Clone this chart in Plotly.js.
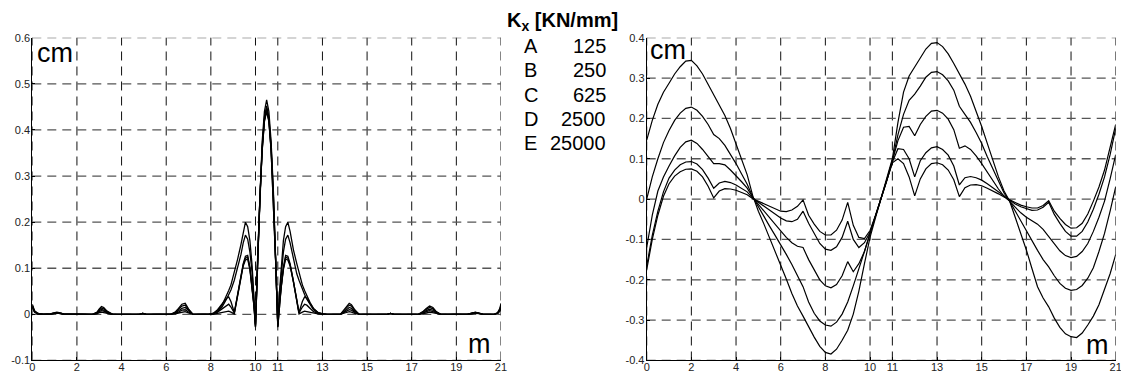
<!DOCTYPE html>
<html>
<head>
<meta charset="utf-8">
<script src="https://cdn.plot.ly/plotly-3.0.1.min.js"></script>
<style>html,body{margin:0;padding:0;background:#fff;}#chart{width:1121px;height:374px;}</style>
</head>
<body>
<div id="chart"></div>
<script>
// ---------- data ----------
const seriesNames = ["A", "B", "C", "D", "E"];
const legendValues = ["125", "250", "625", "2500", "25000"];
const legendTitle = "<b>K<sub>x</sub> [KN/mm]</b>";

const xTickVals = [0, 2, 4, 6, 8, 10, 11, 13, 15, 17, 19, 21];
const xTickText = ["0", "2", "4", "6", "8", "10", "11", "13", "15", "17", "19", "21"];
const yTickLeft = [-0.1, 0, 0.1, 0.2, 0.3, 0.4, 0.5, 0.6];
const yTickLeftText = ["-0.1", "0", "0.1", "0.2", "0.3", "0.4", "0.5", "0.6"];
const yTickRight = [-0.4, -0.3, -0.2, -0.1, 0, 0.1, 0.2, 0.3, 0.4];
const yTickRightText = ["-0.4", "-0.3", "-0.2", "-0.1", "0", "0.1", "0.2", "0.3", "0.4"];

// left chart (cm vs m)
const xLeft = [0, 0.1, 0.25, 0.5, 0.8, 1.0, 1.1, 1.2, 1.4,
  2.7, 2.9, 3.0, 3.1, 3.2, 3.35, 3.6,
  4.8, 4.95, 5.1,
  6.2, 6.4, 6.55, 6.7, 6.85, 7.0, 7.2,
  7.9, 8.1, 8.3, 8.5, 8.7, 8.8, 8.9, 9.05, 9.2, 9.35, 9.45, 9.55, 9.65, 9.75, 9.85, 9.93, 10.0,
  10.1, 10.2, 10.3, 10.4, 10.5, 10.6, 10.7, 10.8, 10.9,
  11.0,
  11.07, 11.15, 11.25, 11.35, 11.45, 11.55, 11.7, 11.85, 11.95, 12.1, 12.2, 12.3, 12.45, 12.6, 12.8, 13.0, 13.2,
  13.8, 14.0, 14.1, 14.2, 14.3, 14.45, 14.65,
  15.9, 16.05, 16.2,
  17.3, 17.5, 17.65, 17.8, 17.95, 18.1, 18.3,
  19.5, 19.7, 19.85, 20.0, 20.2,
  20.7, 20.85, 20.95, 21.0];

const leftA = [0.022, 0.008, 0.002, 0, 0.001, 0.004, 0.005, 0.004, 0.001,
  0, 0.005, 0.012, 0.017, 0.015, 0.007, 0,
  0, 0.002, 0,
  0, 0.005, 0.013, 0.022, 0.024, 0.012, 0,
  0, 0.002, 0.008, 0.02, 0.04, 0.052, 0.064, 0.09, 0.12, 0.152, 0.18, 0.2, 0.19, 0.16, 0.105, 0.045, -0.022,
  0.13, 0.27, 0.375, 0.44, 0.465, 0.44, 0.375, 0.27, 0.13,
  -0.022,
  0.045, 0.105, 0.16, 0.19, 0.2, 0.18, 0.14, 0.11, 0.09, 0.064, 0.052, 0.04, 0.025, 0.013, 0.004, 0.001, 0,
  0, 0.012, 0.02, 0.024, 0.021, 0.01, 0,
  0, 0.002, 0,
  0, 0.006, 0.013, 0.018, 0.015, 0.006, 0,
  0, 0.003, 0.005, 0.003, 0,
  0, 0.004, 0.013, 0.024];
const leftB = [0.02, 0.007, 0.002, 0, 0.001, 0.003, 0.004, 0.003, 0.001,
  0, 0.004, 0.01, 0.014, 0.012, 0.006, 0,
  0, 0.002, 0,
  0, 0.004, 0.011, 0.018, 0.02, 0.01, 0,
  0, 0.001, 0.006, 0.016, 0.033, 0.043, 0.053, 0.074, 0.1, 0.13, 0.155, 0.172, 0.163, 0.135, 0.09, 0.04, -0.022,
  0.125, 0.262, 0.365, 0.428, 0.452, 0.428, 0.365, 0.262, 0.125,
  -0.023,
  0.04, 0.09, 0.135, 0.163, 0.172, 0.155, 0.118, 0.088, 0.074, 0.053, 0.043, 0.033, 0.02, 0.01, 0.003, 0.001, 0,
  0, 0.01, 0.017, 0.02, 0.018, 0.008, 0,
  0, 0.002, 0,
  0, 0.005, 0.011, 0.015, 0.012, 0.005, 0,
  0, 0.003, 0.004, 0.003, 0,
  0, 0.003, 0.011, 0.021];
const leftC = [0.018, 0.006, 0.001, 0, 0.001, 0.003, 0.004, 0.003, 0.001,
  0, 0.003, 0.008, 0.011, 0.009, 0.004, 0,
  0, 0.002, 0,
  0, 0.003, 0.008, 0.013, 0.015, 0.008, 0,
  0, 0.002, 0.01, 0.022, 0.035, 0.038, 0.028, 0.004, 0.046, 0.088, 0.11, 0.126, 0.128, 0.102, 0.062, 0.022, -0.025,
  0.122, 0.258, 0.36, 0.423, 0.446, 0.423, 0.36, 0.258, 0.122,
  -0.025,
  0.022, 0.062, 0.102, 0.128, 0.126, 0.11, 0.075, 0.032, 0.004, 0.028, 0.038, 0.035, 0.024, 0.012, 0.004, 0.001, 0,
  0, 0.007, 0.012, 0.015, 0.013, 0.006, 0,
  0, 0.002, 0,
  0, 0.003, 0.008, 0.011, 0.009, 0.004, 0,
  0, 0.002, 0.004, 0.002, 0,
  0, 0.003, 0.01, 0.019];
const leftD = [0.016, 0.005, 0.001, 0, 0, 0.002, 0.003, 0.002, 0,
  0, 0.002, 0.006, 0.008, 0.007, 0.003, 0,
  0, 0.002, 0,
  0, 0.002, 0.005, 0.009, 0.01, 0.005, 0,
  0, 0.001, 0.005, 0.012, 0.02, 0.022, 0.016, 0.003, 0.042, 0.085, 0.108, 0.122, 0.124, 0.1, 0.06, 0.02, -0.027,
  0.12, 0.255, 0.357, 0.42, 0.442, 0.42, 0.357, 0.255, 0.12,
  -0.027,
  0.02, 0.06, 0.1, 0.124, 0.122, 0.108, 0.072, 0.03, 0.003, 0.016, 0.022, 0.02, 0.013, 0.006, 0.002, 0, 0,
  0, 0.005, 0.008, 0.01, 0.009, 0.004, 0,
  0, 0.002, 0,
  0, 0.002, 0.006, 0.008, 0.006, 0.003, 0,
  0, 0.002, 0.003, 0.002, 0,
  0, 0.002, 0.008, 0.017];
const leftE = [0.015, 0.005, 0.001, 0, 0, 0.002, 0.003, 0.002, 0,
  0, 0.001, 0.004, 0.005, 0.004, 0.002, 0,
  0, 0.002, 0,
  0, 0.001, 0.003, 0.005, 0.006, 0.003, 0,
  0, 0, 0.002, 0.004, 0.006, 0.007, 0.005, 0.001, 0.04, 0.082, 0.105, 0.118, 0.12, 0.097, 0.058, 0.018, -0.028,
  0.118, 0.253, 0.355, 0.418, 0.44, 0.418, 0.355, 0.253, 0.118,
  -0.028,
  0.018, 0.058, 0.097, 0.12, 0.118, 0.105, 0.07, 0.028, 0.001, 0.005, 0.007, 0.006, 0.004, 0.002, 0.001, 0, 0,
  0, 0.003, 0.005, 0.006, 0.005, 0.002, 0,
  0, 0.002, 0,
  0, 0.001, 0.003, 0.005, 0.004, 0.002, 0,
  0, 0.001, 0.003, 0.001, 0,
  0, 0.002, 0.007, 0.016];

// right chart (cm vs m), sampled every 0.25 m
const xRight = [0, 0.25, 0.5, 0.75, 1, 1.25, 1.5, 1.75, 2, 2.25, 2.5, 2.75, 3, 3.25, 3.5, 3.75,
  4, 4.25, 4.5, 4.75, 5, 5.25, 5.5, 5.75, 6, 6.25, 6.5, 6.75, 7, 7.25, 7.5, 7.75,
  8, 8.25, 8.5, 8.75, 9, 9.25, 9.5, 9.75, 10, 10.25, 10.5, 10.75, 11, 11.25, 11.5, 11.75,
  12, 12.25, 12.5, 12.75, 13, 13.25, 13.5, 13.75, 14, 14.25, 14.5, 14.75, 15, 15.25, 15.5, 15.75,
  16, 16.25, 16.5, 16.75, 17, 17.25, 17.5, 17.75, 18, 18.25, 18.5, 18.75, 19, 19.25, 19.5, 19.75,
  20, 20.25, 20.5, 20.75, 21];
const rightA = [0.146, 0.195, 0.235, 0.265, 0.287, 0.31, 0.328, 0.342, 0.344, 0.33, 0.31, 0.285, 0.257, 0.235, 0.207, 0.175,
  0.138, 0.1, 0.06, 0.008, -0.03, -0.062, -0.095, -0.128, -0.162, -0.198, -0.234, -0.265, -0.29, -0.318, -0.342, -0.365,
  -0.38, -0.384, -0.372, -0.35, -0.325, -0.285, -0.228, -0.16, -0.095, -0.045, 0.005, 0.05, 0.1, 0.19, 0.265, 0.305,
  0.328, 0.352, 0.372, 0.386, 0.388, 0.378, 0.36, 0.336, 0.31, 0.285, 0.255, 0.218, 0.18, 0.138, 0.095, 0.055,
  0.02, -0.005, -0.045, -0.085, -0.126, -0.172, -0.217, -0.245, -0.267, -0.295, -0.318, -0.334, -0.341, -0.343, -0.332, -0.312,
  -0.29, -0.262, -0.226, -0.185, -0.138];
const rightB = [0.0, 0.055, 0.1, 0.14, 0.17, 0.195, 0.213, 0.225, 0.228, 0.22, 0.205, 0.185, 0.16, 0.15, 0.133, 0.112,
  0.088, 0.062, 0.037, 0.005, -0.02, -0.043, -0.067, -0.09, -0.112, -0.137, -0.162, -0.19, -0.217, -0.255, -0.283, -0.302,
  -0.312, -0.315, -0.305, -0.285, -0.255, -0.215, -0.175, -0.13, -0.085, -0.043, 0.003, 0.048, 0.095, 0.16, 0.21, 0.245,
  0.26, 0.28, 0.302, 0.314, 0.316, 0.308, 0.293, 0.27, 0.23, 0.21, 0.19, 0.165, 0.138, 0.105, 0.075, 0.045,
  0.015, -0.005, -0.03, -0.055, -0.077, -0.102, -0.127, -0.15, -0.168, -0.19, -0.209, -0.221, -0.226, -0.224, -0.214, -0.196,
  -0.17, -0.13, -0.085, -0.03, 0.03];
const rightC = [-0.12, -0.04, 0.02, 0.055, 0.082, 0.107, 0.128, 0.142, 0.146, 0.138, 0.123, 0.105, 0.088, 0.088, 0.085, 0.072,
  0.058, 0.043, 0.027, 0.004, -0.013, -0.03, -0.048, -0.064, -0.079, -0.095, -0.108, -0.117, -0.12, -0.15, -0.177, -0.2,
  -0.215, -0.22, -0.212, -0.19, -0.155, -0.18, -0.16, -0.13, -0.085, -0.043, 0.002, 0.047, 0.095, 0.145, 0.178, 0.18,
  0.157, 0.185, 0.205, 0.218, 0.22, 0.213, 0.198, 0.172, 0.126, 0.132, 0.123, 0.107, 0.088, 0.067, 0.045, 0.025,
  0.007, -0.005, -0.02, -0.034, -0.045, -0.053, -0.062, -0.075, -0.093, -0.112, -0.128, -0.14, -0.145, -0.142, -0.13, -0.11,
  -0.08, -0.045, -0.005, 0.05, 0.11];
const rightD = [-0.165, -0.09, -0.03, 0.018, 0.052, 0.072, 0.085, 0.092, 0.093, 0.087, 0.073, 0.052, 0.027, 0.04, 0.044, 0.041,
  0.035, 0.027, 0.018, 0.002, -0.008, -0.018, -0.028, -0.038, -0.047, -0.054, -0.056, -0.05, -0.03, -0.06, -0.087, -0.11,
  -0.124, -0.127, -0.118, -0.095, -0.055, -0.1, -0.12, -0.108, -0.082, -0.042, 0.002, 0.045, 0.092, 0.125, 0.123, 0.1,
  0.055, 0.095, 0.115, 0.127, 0.13, 0.123, 0.109, 0.082, 0.035, 0.053, 0.056, 0.053, 0.047, 0.038, 0.028, 0.017,
  0.006, -0.003, -0.012, -0.019, -0.024, -0.028, -0.027, -0.02, -0.008, -0.038, -0.06, -0.08, -0.092, -0.092, -0.08, -0.057,
  -0.025, 0.012, 0.055, 0.11, 0.175];
const rightE = [-0.175, -0.1, -0.04, 0.007, 0.038, 0.057, 0.068, 0.074, 0.075, 0.069, 0.055, 0.032, 0.003, 0.02, 0.026, 0.025,
  0.022, 0.017, 0.011, 0.001, -0.005, -0.012, -0.019, -0.025, -0.03, -0.031, -0.027, -0.018, -0.002, -0.04, -0.062, -0.08,
  -0.089, -0.089, -0.077, -0.052, -0.008, -0.065, -0.095, -0.098, -0.078, -0.04, 0.002, 0.045, 0.09, 0.1, 0.088, 0.055,
  0.008, 0.05, 0.075, 0.088, 0.09, 0.085, 0.072, 0.048, 0.006, 0.028, 0.035, 0.036, 0.033, 0.027, 0.021, 0.013,
  0.005, -0.002, -0.009, -0.015, -0.019, -0.022, -0.022, -0.016, -0.004, -0.03, -0.048, -0.063, -0.072, -0.071, -0.06, -0.037,
  -0.005, 0.03, 0.072, 0.125, 0.185];

// ---------- chart ----------
const W = 1121, H = 374;
const FONT = "Arial, 'Liberation Sans', sans-serif";
const DASH = "9px,6px";
const leftSeries = [leftA, leftB, leftC, leftD, leftE];
const rightSeries = [rightA, rightB, rightC, rightD, rightE];

const traces = [];
seriesNames.forEach((n, i) => {
  traces.push({x: xLeft, y: leftSeries[i], name: n, type: "scatter", mode: "lines",
    line: {color: "#000", width: 1.3}, xaxis: "x", yaxis: "y", hoverinfo: "skip"});
});
seriesNames.forEach((n, i) => {
  traces.push({x: xRight, y: rightSeries[i], name: n, type: "scatter", mode: "lines",
    line: {color: "#000", width: 1.2}, xaxis: "x2", yaxis: "y2", hoverinfo: "skip"});
});

function xAxis(anchor, domain) {
  return {domain: domain, anchor: anchor, range: [0, 21], tickmode: "array",
    tickvals: xTickVals, ticktext: xTickText, showgrid: false, zeroline: false,
    showline: true, linecolor: "#000", linewidth: 1, ticks: "inside", ticklen: 3, tickcolor: "#000",
    ticklabeloverflow: "allow", ticklabelstandoff: -4,
    tickfont: {family: FONT, size: 11, color: "#222"}, fixedrange: true};
}
function yAxis(anchor, range, vals, text) {
  return {domain: [0.0361, 0.8992], anchor: anchor, range: range, tickmode: "array",
    tickvals: vals, ticktext: text, showgrid: false, zeroline: false,
    showline: true, linecolor: "#000", linewidth: 1, ticks: "inside", ticklen: 3, tickcolor: "#000",
    ticklabeloverflow: "allow", ticklabelstandoff: -1,
    tickfont: {family: FONT, size: 11, color: "#222"}, fixedrange: true};
}

// dashed grid drawn as shapes at the tick positions
const shapes = [];
[["x", "y"], ["x2", "y2"]].forEach(([xa, ya], k) => {
  xTickVals.forEach(v => shapes.push({type: "line", layer: "below", xref: xa, yref: ya + " domain",
    x0: v, x1: v, y0: 0, y1: 1, line: {color: "#111", width: 1, dash: DASH}}));
  (k === 0 ? yTickLeft : yTickRight).forEach(v => shapes.push({type: "line", layer: "below",
    xref: xa + " domain", yref: ya, x0: 0, x1: 1, y0: v, y1: v,
    line: {color: "#555", width: 1.3, dash: DASH}}));
});

const px = v => v / W;
const py = v => 1 - v / H;
const annotations = [];
const txt = (text, x, y, xa, size) => ({text: text, xref: "paper", yref: "paper",
  x: px(x), y: py(y), xanchor: xa, yanchor: "middle", showarrow: false,
  font: {family: FONT, size: size, color: "#000"}});

annotations.push(txt("cm", 35, 53, "left", 27));
annotations.push(txt("m", 493, 344, "right", 27));
annotations.push(txt("cm", 648, 50, "left", 27));
annotations.push(txt("m", 1111, 345, "right", 27));
annotations.push(txt(legendTitle, 505, 21, "left", 20));
seriesNames.forEach((n, i) => {
  const y = 46 + i * 24.3;
  annotations.push(txt(n, 522, y, "left", 20));
  annotations.push(txt(legendValues[i], 608, y, "right", 20));
});

const layout = {
  width: W, height: H, margin: {l: 0, r: 0, t: 0, b: 0}, showlegend: false,
  paper_bgcolor: "#fff", plot_bgcolor: "#fff",
  xaxis: xAxis("y", [0.02881, 0.44692]),
  yaxis: yAxis("x", [-0.1, 0.6], yTickLeft, yTickLeftText),
  xaxis2: xAxis("y2", [0.57690, 0.99527]),
  yaxis2: yAxis("x2", [-0.4, 0.4], yTickRight, yTickRightText),
  shapes: shapes,
  annotations: annotations
};

Plotly.newPlot("chart", traces, layout, {displayModeBar: false, staticPlot: true});
</script>
</body>
</html>
